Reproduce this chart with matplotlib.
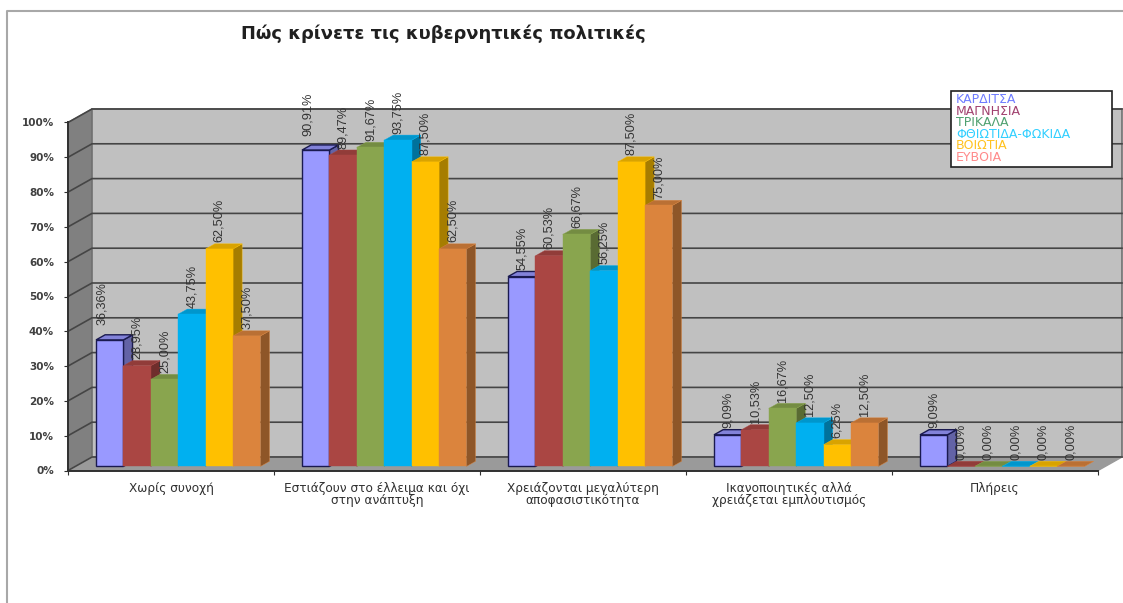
import matplotlib
matplotlib.use("Agg")
import matplotlib.pyplot as plt
from matplotlib.colors import to_rgb

categories = [
    "Χωρίς συνοχή",
    "Εστιάζουν στο έλλειμα και όχι\nστην ανάπτυξη",
    "Χρειάζονται μεγαλύτερη\nαποφασιστικότητα",
    "Ικανοποιητικές αλλά\nχρειάζεται εμπλουτισμός",
    "Πλήρεις",
]
series_names = ["ΚΑΡΔΙΤΣΑ", "ΜΑΓΝΗΣΙΑ", "ΤΡΙΚΑΛΑ", "ΦΘΙΩΤΙΔΑ-ΦΩΚΙΔΑ", "ΒΟΙΩΤΙΑ", "ΕΥΒΟΙΑ"]
karditsa = [36.36, 90.91, 54.55, 9.09, 9.09]
magnisia = [28.95, 89.47, 60.53, 10.53, 0.0]
trikala = [25.00, 91.67, 66.67, 16.67, 0.0]
fthiotida = [43.75, 93.75, 56.25, 12.50, 0.0]
voiotia = [62.50, 87.50, 87.50, 6.25, 0.0]
evoia = [37.50, 62.50, 75.00, 12.50, 0.0]
all_series = [karditsa, magnisia, trikala, fthiotida, voiotia, evoia]

bar_colors = ["#9999FF", "#AA4643", "#89A54E", "#00B0F0", "#FFC000", "#DB843D"]
legend_colors = ["#6E7CFF", "#A0406E", "#4FA070", "#30CFFF", "#FFC21F", "#FF8A8A"]

plt.rcParams["font.family"] = ["DejaVu Sans"]
W, H = 1123, 603


def shade(color, factor):
    return tuple(c * factor for c in to_rgb(color))


fig = plt.figure(figsize=(W / 100, H / 100), dpi=100)
ax = fig.add_axes([68 / W, (H - 470.5) / H, 1030 / W, 348 / H])
ax.set_xlim(0, 5)
ax.set_ylim(0, 100)

# 3d look: depth of the box and of the bars, in data units
depth_x = 24 / 206
depth_y = 13.5 / 3.48
bar_width = 27.4 / 206
bar_front = 0.3
bar_back = 0.68

# walls and floor
ax.fill([0, depth_x, depth_x, 0], [0, depth_y, 100 + depth_y, 100], color="#808080", zorder=1, clip_on=False)
ax.fill([depth_x, 5 + depth_x, 5 + depth_x, depth_x], [depth_y, depth_y, 100 + depth_y, 100 + depth_y],
        facecolor="#C0C0C0", edgecolor="#707070", linewidth=1.2, zorder=1, clip_on=False)
ax.fill([0, 5, 5 + depth_x, depth_x], [0, 0, depth_y, depth_y], color="#9A9A9A", zorder=1, clip_on=False)

for pct in range(0, 101, 10):
    ax.plot([0, depth_x, 5 + depth_x], [pct, pct + depth_y, pct + depth_y],
            color="#454545", linewidth=1.2, zorder=2, clip_on=False)

# bars, drawn from left to right so each front face covers the previous side
x0 = bar_front * depth_x
y0 = bar_front * depth_y
dx = (bar_back - bar_front) * depth_x
dy = (bar_back - bar_front) * depth_y
for g in range(len(categories)):
    start = g + 0.5 - 3 * bar_width + x0
    for s, values in enumerate(all_series):
        v = values[g]
        left = start + s * bar_width
        color = bar_colors[s]
        edge = "#1A1A50" if s == 0 else color
        lw = 1.0 if s == 0 else 0.3
        z = 3 + g + s * 0.01
        ax.fill([left + bar_width, left + bar_width + dx, left + bar_width + dx, left + bar_width],
                [y0, y0 + dy, y0 + dy + v, y0 + v],
                facecolor=shade(color, 0.65), edgecolor=edge, linewidth=lw, zorder=z, clip_on=False)
        ax.fill([left, left + dx, left + bar_width + dx, left + bar_width],
                [y0 + v, y0 + dy + v, y0 + dy + v, y0 + v],
                facecolor=shade(color, 0.85), edgecolor=edge, linewidth=lw, zorder=z, clip_on=False)
        ax.bar(left, v, bar_width, bottom=y0, align="edge", color=color,
               edgecolor=edge, linewidth=lw, zorder=z + 0.001, clip_on=False)
        label = f"{v:.2f}%".replace(".", ",")
        # the first labels of the first two groups sit further up and to the left
        moved = s == 0 and g < 2
        nudge_x = -8 / 206 if moved else 0
        nudge_y = 8 / 3.48 if moved else 0
        ax.text(left + bar_width / 2 + nudge_x, y0 + v + dy + 0.4 + nudge_y, label, rotation=90,
                ha="center", va="bottom", fontsize=9.2, color="#333333", zorder=20,
                family="Liberation Sans")

# axes
for side in ["top", "right"]:
    ax.spines[side].set_visible(False)
for side in ["left", "bottom"]:
    ax.spines[side].set_color("#303030")
    ax.spines[side].set_linewidth(1.4)
    ax.spines[side].set_zorder(15)
ax.patch.set_visible(False)

ax.set_yticks(range(0, 101, 10))
ax.set_yticklabels([f"{p}%" for p in range(0, 101, 10)], fontsize=7.5, fontweight="bold", color="#404040")
ax.set_xticks(range(6))
ax.set_xticklabels([])
ax.set_xticks([g + 0.5 for g in range(5)], minor=True)
ax.set_xticklabels(categories, minor=True, fontsize=8.7, color="#303030", linespacing=0.95)
ax.tick_params(axis="x", which="major", length=3, color="#303030")
ax.tick_params(axis="x", which="minor", length=0, pad=8)
ax.tick_params(axis="y", length=3, color="#303030", pad=7)

# legend box holds coloured names only, without keys
fig.add_artist(plt.Rectangle((951 / W, 1 - 167 / H), 161 / W, 76 / H, transform=fig.transFigure,
                             facecolor="white", edgecolor="#202020", linewidth=1.2, zorder=30))
for i, name in enumerate(series_names):
    fig.text(956 / W, 1 - (99.5 + i * 11.6) / H, name, color=legend_colors[i], fontsize=9,
             ha="left", va="center", zorder=31)

fig.text(241 / W, 1 - 34 / H, "Πώς κρίνετε τις κυβερνητικές πολιτικές", fontsize=12.85,
         fontweight="bold", color="#202020", ha="left", va="center")

# border of the pasted picture
fig.add_artist(plt.Line2D([7 / W, 7 / W, 1], [0, 1 - 11 / H, 1 - 11 / H], color="#A8A8A8", linewidth=1.5))

fig.savefig("out.png", dpi=100)
